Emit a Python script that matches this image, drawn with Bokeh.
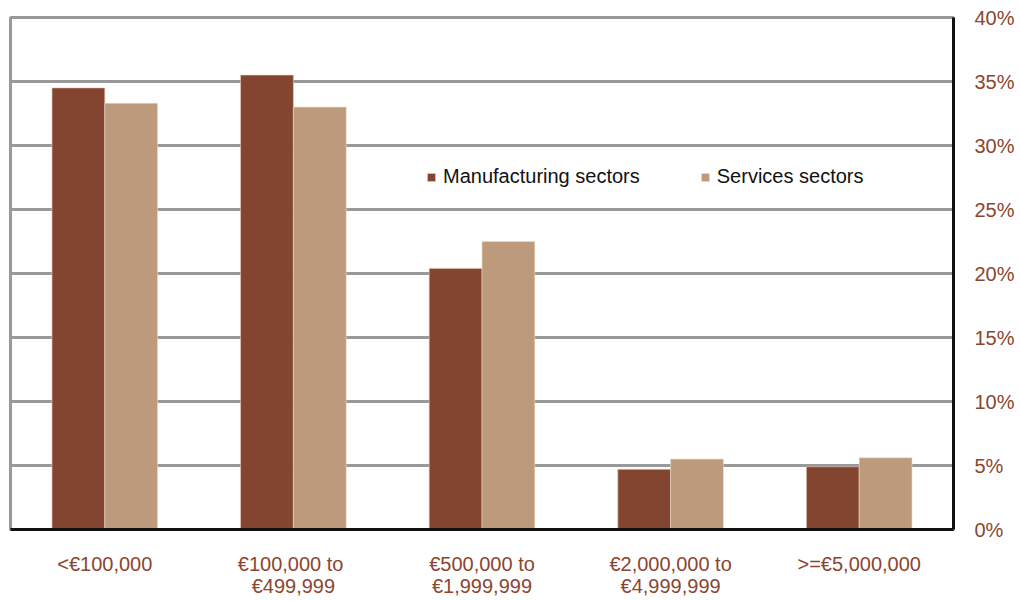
from bokeh.plotting import figure
from bokeh.models import ColumnDataSource, FactorRange, Legend, LegendItem, FixedTicker, PrintfTickFormatter
from bokeh.transform import dodge
from bokeh.embed import file_html
from bokeh.resources import INLINE

categories = ["<€100,000", "€100,000  to\n€499,999", "€500,000 to\n€1,999,999",
              "€2,000,000 to\n€4,999,999", ">=€5,000,000"]
manufacturing = [34.5, 35.5, 20.4, 4.7, 4.9]
services = [33.3, 33.0, 22.5, 5.5, 5.6]
y_ticks = [0, 5, 10, 15, 20, 25, 30, 35, 40]

MFG = "#834530"
SVC = "#BC9A7B"
LABEL = "#8B4630"
FONT = "Liberation Sans"

src = ColumnDataSource(dict(cat=categories, mfg=manufacturing, svc=services))

p = figure(x_range=FactorRange(*categories, range_padding=0), y_range=(0, 40),
           frame_width=943, frame_height=512, output_backend="svg",
           toolbar_location=None, y_axis_location="right",
           min_border_left=10, min_border_top=17, min_border_bottom=5, min_border_right=5)

r1 = p.vbar(x=dodge("cat", -0.14, range=p.x_range), top="mfg", width=0.28, source=src,
            fill_color=MFG, line_color="#E8C8B8", line_width=0.6)
r2 = p.vbar(x=dodge("cat", 0.14, range=p.x_range), top="svc", width=0.28, source=src,
            fill_color=SVC, line_color="#F0DCC8", line_width=0.6)

p.outline_line_color = "#999999"
p.outline_line_width = 3
p.xgrid.grid_line_color = None
p.ygrid.grid_line_color = "#999999"
p.ygrid.grid_line_width = 3
p.ygrid.ticker = FixedTicker(ticks=y_ticks)

ya = p.yaxis[0]
ya.ticker = FixedTicker(ticks=y_ticks)
ya.formatter = PrintfTickFormatter(format="%d%%")
ya.axis_line_color = "#111111"
ya.axis_line_width = 3
ya.major_tick_line_color = None
ya.minor_tick_line_color = None
ya.major_label_standoff = 15
ya.major_label_text_font = FONT
ya.major_label_text_font_size = "20px"
ya.major_label_text_color = LABEL

xa = p.xaxis[0]
xa.axis_line_color = "#111111"
xa.axis_line_width = 3
xa.major_tick_line_color = None
xa.minor_tick_line_color = None
xa.major_label_standoff = 17
xa.major_label_text_font = FONT
xa.major_label_text_font_size = "20px"
xa.major_label_text_color = LABEL
xa.major_label_text_line_height = 1.0
xa.group_text_font_size = "0px"

legend = Legend(items=[LegendItem(label="Manufacturing sectors", renderers=[r1]),
                       LegendItem(label="Services sectors", renderers=[r2])],
                orientation="horizontal", location=(416, 341),
                glyph_width=10, glyph_height=10, label_standoff=7, spacing=60,
                padding=0, margin=0, border_line_color=None, background_fill_alpha=0,
                label_text_font=FONT, label_text_font_size="20px", label_text_color="#111111")
p.add_layout(legend, "center")

open("out.html", "w").write(file_html(p, INLINE))
